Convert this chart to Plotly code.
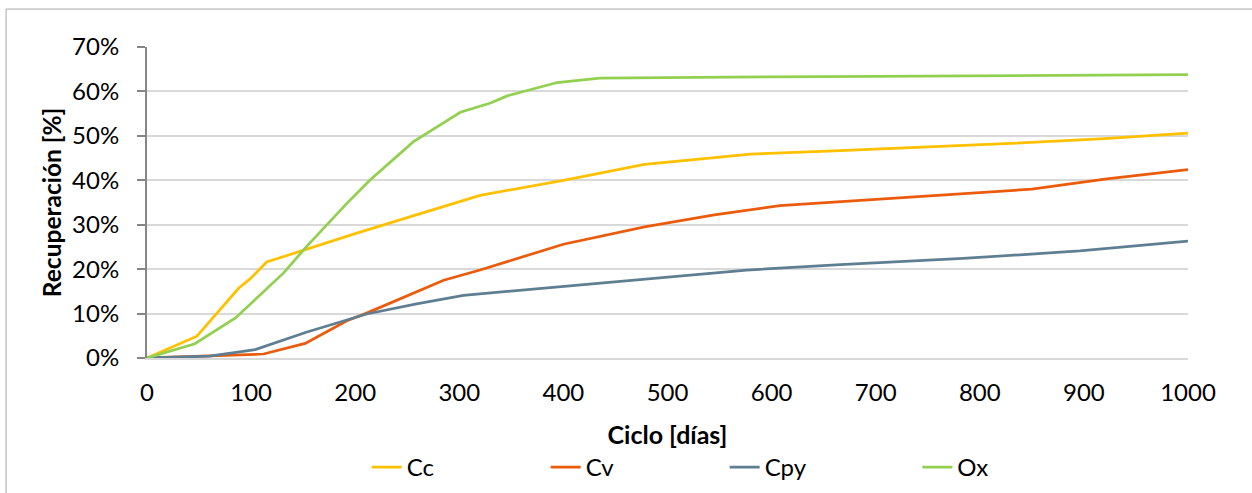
import plotly.graph_objects as go

# Recuperación [%] vs Ciclo [días]
x_cc = [0, 48, 88, 99, 115, 153, 200, 250, 320, 400, 478, 580, 660, 830, 920, 1000]
y_cc = [0, 4.9, 15.7, 17.8, 21.6, 24.5, 28.0, 31.6, 36.6, 40.0, 43.6, 45.9, 46.6, 48.3, 49.4, 50.6]

x_cv = [0, 57, 112, 152, 192, 211, 285, 320, 400, 478, 545, 608, 665, 760, 850, 922, 1000]
y_cv = [0, 0.5, 0.9, 3.3, 8.4, 10.1, 17.5, 19.8, 25.6, 29.5, 32.2, 34.3, 35.2, 36.6, 38.0, 40.3, 42.4]

x_cpy = [0, 60, 104, 153, 211, 259, 304, 400, 480, 576, 666, 784, 896, 1000]
y_cpy = [0, 0.4, 1.9, 5.8, 9.9, 12.2, 14.1, 16.1, 17.9, 19.8, 21.0, 22.4, 24.1, 26.3]

x_ox = [0, 46, 85, 131, 153, 192, 214, 256, 301, 330, 346, 394, 435, 480, 600, 700, 800, 900, 1000]
y_ox = [0, 3.2, 9.0, 19.1, 25.0, 34.8, 40.0, 48.7, 55.3, 57.4, 59.0, 62.0, 63.0, 63.1, 63.3, 63.4, 63.5, 63.6, 63.8]

series = [
    ("Cc", x_cc, y_cc, "#FFC000", "legend"),
    ("Cv", x_cv, y_cv, "#EA5B0C", "legend"),
    ("Cpy", x_cpy, y_cpy, "#5E7F91", "legend"),
    ("Ox", x_ox, y_ox, "#92D050", "legend2"),  # Ox sits a bit further right
]

FONT = "Lato, Calibri, sans-serif"

fig = go.Figure()
for name, xs, ys, color, leg in series:
    fig.add_trace(go.Scatter(
        x=xs, y=ys, name=name, mode="lines",
        line=dict(color=color, width=2.75),
        legend=leg,
    ))

legend_common = dict(
    orientation="h", xanchor="left", y=-0.352, yanchor="middle",
    entrywidth=134, entrywidthmode="pixels",
    font=dict(size=24),
)

fig.update_layout(
    width=1252, height=493,
    margin=dict(l=147, r=64, t=47, b=135, autoexpand=False),
    paper_bgcolor="white", plot_bgcolor="white",
    font=dict(family=FONT, size=24, color="black"),
    legend=dict(x=0.211, **legend_common),
    legend2=dict(x=0.740, **legend_common),
)

fig.update_xaxes(
    range=[0, 1000], dtick=100, automargin=False,
    showgrid=False, zeroline=False,
    showline=True, linecolor="#d9d9d9", linewidth=1.5,
    ticks="", ticklabelstandoff=12,
    title=dict(text="<b>Ciclo [días]</b>", font=dict(size=25), standoff=22),
)

fig.update_yaxes(
    range=[0, 70], dtick=10, ticksuffix="%", automargin=False,
    showgrid=True, gridcolor="#d9d9d9", gridwidth=1.5, zeroline=False,
    showline=True, linecolor="#868686", linewidth=2,
    ticks="outside", ticklen=8, tickcolor="#868686", tickwidth=2,
    ticklabelstandoff=13,
    title=dict(text="<b>Recuperación [%]</b>", font=dict(size=24.5), standoff=4),
)

# outer chart border (extends past the right / bottom edge of the picture)
fig.add_shape(
    type="rect", xref="paper", yref="paper",
    x0=-0.1354, x1=1.2, y0=-0.7, y1=1.122,
    line=dict(color="#a6a6a6", width=1), fillcolor="rgba(0,0,0,0)",
    layer="below",
)

fig.write_html(
    "out.html",
    config={"displayModeBar": False},
    post_script="document.body.style.margin='0';",
)
